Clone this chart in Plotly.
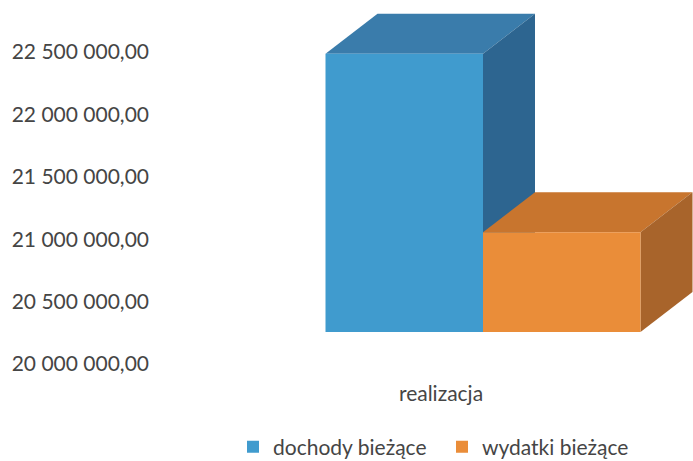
import plotly.graph_objects as go

# ---- data ----
categories = ["realizacja"]
series_names = ["dochody bieżące", "wydatki bieżące"]
dochody = [22230000.0]
wydatki = [20800000.0]
y_ticks = [20000000, 20500000, 21000000, 21500000, 22000000, 22500000]
base_value = 20000000

# ---- layout constants ----
W, H = 693, 461
ML, MR, MT, MB = 150, 0, 0, 86
PW, PH = W - ML - MR, H - MT - MB
PX_PER_UNIT_Y = 124.8 / 1e6
span_y = PH / PX_PER_UNIT_Y
y1_lo = y_ticks[0] - 11 / PX_PER_UNIT_Y      # label axis
y2_lo = base_value - 43 / PX_PER_UNIT_Y      # bar axis (floor)

bar_center_px = 483
label_center_px = 441
xb_lo = -(bar_center_px - ML) / PW
xl_lo = -(label_center_px - ML) / PW
bar_w = 157.5 / PW
bargap = 1 - 2 * bar_w

DX = 52 / PW
DY = 40 / PX_PER_UNIT_Y

front = ["#409bce", "#ea8d39"]
top = ["#3a7cab", "#c8752e"]
side = ["#2d6590", "#a8642b"]

fig = go.Figure()
# invisible anchor trace so the label axes get drawn
fig.add_trace(go.Scatter(x=[0] * len(y_ticks), y=y_ticks, mode="markers",
                         marker=dict(opacity=0), showlegend=False, hoverinfo="skip",
                         xaxis="x", yaxis="y"))
vals = [dochody, wydatki]
for i, (name, v) in enumerate(zip(series_names, vals)):
    fig.add_trace(go.Bar(
        x=categories, y=[val - base_value for val in v], base=[base_value] * len(v),
        name=name, marker=dict(color=front[i], line=dict(width=0)),
        xaxis="x2", yaxis="y2",
    ))

shapes = []
for i, v in enumerate(vals):
    for j, val in enumerate(v):
        x0 = j - bar_w + i * bar_w
        x1 = x0 + bar_w
        b = base_value
        top_path = f"M{x0},{val} L{x0+DX},{val+DY} L{x1+DX},{val+DY} L{x1},{val} Z"
        side_path = f"M{x1},{b} L{x1+DX},{b+DY} L{x1+DX},{val+DY} L{x1},{val} Z"
        shapes.append(dict(type="path", path=top_path, xref="x2", yref="y2",
                           fillcolor=top[i], line=dict(width=0), layer="below"))
        shapes.append(dict(type="path", path=side_path, xref="x2", yref="y2",
                           fillcolor=side[i], line=dict(width=0), layer="below"))

font_fam = "Lato, 'Open Sans', sans-serif"
txt = "#454545"
FS = 21
fig.update_layout(
    width=W, height=H,
    margin=dict(l=ML, r=MR, t=MT, b=MB),
    paper_bgcolor="white", plot_bgcolor="rgba(0,0,0,0)",
    separators=", ",
    barmode="group", bargap=bargap, bargroupgap=0,
    shapes=shapes,
    showlegend=True,
    legend=dict(orientation="h", xref="container", xanchor="left", x=233 / W,
                yref="container", y=(H - 447) / H, yanchor="middle", entrywidth=164,
                font=dict(family=font_fam, size=FS, color=txt)),
    xaxis=dict(range=[xl_lo, xl_lo + 1], tickmode="array", tickvals=[0], ticktext=categories,
               showgrid=False, zeroline=False, showline=False, ticks="", fixedrange=True,
               ticklabelstandoff=4,
               tickfont=dict(family=font_fam, size=FS, color=txt)),
    yaxis=dict(range=[y1_lo, y1_lo + span_y], tickmode="array", tickvals=y_ticks,
               tickformat=",.2f", showgrid=False, zeroline=False, showline=False,
               ticks="", tickfont=dict(family=font_fam, size=FS, color=txt)),
    xaxis2=dict(type="category", range=[xb_lo, xb_lo + 1], overlaying="x", anchor="y2",
                showticklabels=False, showgrid=False, zeroline=False, showline=False),
    yaxis2=dict(range=[y2_lo, y2_lo + span_y], overlaying="y", anchor="x2",
                showticklabels=False, showgrid=False, zeroline=False, showline=False),
    font=dict(family=font_fam, color=txt),
)

fig.write_html("out.html", config={"displayModeBar": False},
               post_script="document.body.style.margin='0';")
